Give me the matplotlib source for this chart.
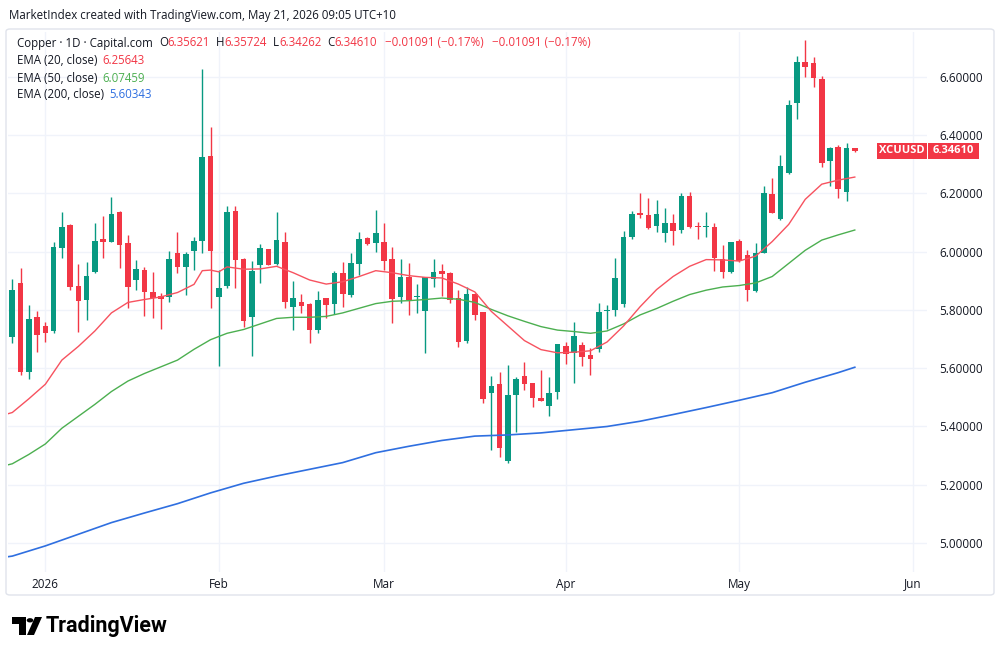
import matplotlib
matplotlib.use("Agg")
import matplotlib.pyplot as plt
from matplotlib.patches import Rectangle, Polygon, Circle, FancyBboxPatch
import numpy as np

W, H = 1000, 656
FONT = ['Open Sans', 'DejaVu Sans']

UP = '#089981'
DOWN = '#f23645'
TXT = '#131722'
GRID = '#f0f3fa'

# daily candles, 26 Dec 2025 .. 21 May 2026 (trading days only)
opens = [5.708, 5.894, 5.586, 5.775, 5.746, 5.729, 6.012, 6.092, 5.882, 5.834,
         5.932, 6.043, 6.035, 6.138, 6.029, 5.903, 5.937, 5.863, 5.848, 5.846,
         5.995, 5.946, 6.003, 6.037, 6.330, 5.846, 5.883, 6.141, 5.975, 5.775,
         5.955, 6.008, 5.957, 6.035, 5.811, 5.829, 5.821, 5.731, 5.840, 5.819,
         5.928, 5.851, 5.958, 6.048, 6.029, 6.035, 5.974, 5.843, 5.912, 5.845,
         5.797, 5.906, 5.935, 5.928, 5.842, 5.694, 5.855, 5.792, 5.516, 5.545,
         5.283, 5.508, 5.574, 5.548, 5.497, 5.472, 5.517, 5.677, 5.653, 5.680,
         5.645, 5.666, 5.795, 5.800, 5.821, 6.052, 6.132, 6.126, 6.088, 6.063,
         6.100, 6.075, 6.193, 6.087, 6.085, 6.084, 5.975, 5.929, 6.037, 5.989,
         5.866, 5.997, 6.198, 6.112, 6.269, 6.510, 6.650, 6.647, 6.592, 6.312,
         6.361, 6.206, 6.35621]
highs = [5.905, 5.943, 5.817, 5.797, 5.760, 6.032, 6.138, 6.094, 5.957, 5.966,
         6.098, 6.123, 6.187, 6.140, 6.058, 5.972, 5.946, 5.932, 5.857, 6.004,
         6.069, 5.999, 6.049, 6.626, 6.427, 5.937, 6.158, 6.158, 5.977, 5.968,
         6.027, 6.009, 6.138, 6.069, 5.901, 5.855, 5.823, 5.866, 5.842, 5.935,
         5.964, 5.997, 6.067, 6.052, 6.143, 6.100, 6.017, 5.974, 5.960, 5.888,
         5.914, 5.974, 5.957, 5.932, 5.869, 5.878, 5.857, 5.794, 5.573, 5.586,
         5.611, 5.569, 5.620, 5.550, 5.594, 5.571, 5.682, 5.691, 5.758, 5.691,
         5.668, 5.823, 5.817, 5.980, 6.071, 6.141, 6.200, 6.186, 6.178, 6.149,
         6.130, 6.201, 6.204, 6.103, 6.138, 6.100, 6.023, 6.035, 6.043, 6.006,
         6.029, 6.226, 6.254, 6.332, 6.521, 6.672, 6.727, 6.670, 6.603, 6.359,
         6.367, 6.372, 6.35724]
lows = [5.686, 5.577, 5.562, 5.657, 5.689, 5.722, 5.980, 5.869, 5.726, 5.766,
        5.928, 5.980, 6.033, 5.943, 5.806, 5.869, 5.779, 5.774, 5.734, 5.829,
        5.926, 5.851, 5.937, 5.997, 5.808, 5.608, 5.877, 5.877, 5.743, 5.642,
        5.894, 5.955, 5.954, 5.806, 5.731, 5.789, 5.685, 5.722, 5.771, 5.786,
        5.811, 5.846, 5.920, 6.023, 6.000, 5.937, 5.754, 5.825, 5.783, 5.791,
        5.653, 5.878, 5.848, 5.823, 5.674, 5.686, 5.766, 5.482, 5.319, 5.294,
        5.273, 5.382, 5.525, 5.468, 5.488, 5.436, 5.493, 5.615, 5.548, 5.608,
        5.577, 5.657, 5.734, 5.780, 5.809, 6.044, 6.115, 6.078, 6.069, 6.035,
        6.023, 6.063, 6.080, 6.043, 6.052, 5.935, 5.909, 5.927, 5.964, 5.832,
        5.863, 5.995, 6.134, 6.110, 6.267, 6.455, 6.599, 6.564, 6.290, 6.226,
        6.183, 6.175, 6.34262]
closes = [5.869, 5.586, 5.768, 5.714, 5.720, 6.015, 6.086, 5.878, 5.832, 5.918,
          6.038, 6.032, 6.128, 6.023, 5.880, 5.940, 5.863, 5.840, 5.838, 5.974,
          5.947, 5.991, 6.037, 6.326, 6.003, 5.874, 6.138, 5.972, 5.763, 5.935,
          6.012, 5.955, 6.040, 5.826, 5.840, 5.815, 5.731, 5.834, 5.817, 5.926,
          5.855, 5.960, 6.044, 6.027, 6.063, 5.968, 5.839, 5.912, 5.834, 5.847,
          5.914, 5.932, 5.924, 5.834, 5.689, 5.855, 5.783, 5.493, 5.540, 5.325,
          5.508, 5.563, 5.545, 5.497, 5.488, 5.516, 5.682, 5.649, 5.711, 5.640,
          5.631, 5.792, 5.798, 5.909, 6.050, 6.130, 6.126, 6.080, 6.130, 6.100,
          6.072, 6.193, 6.084, 6.085, 6.088, 5.977, 5.929, 6.032, 5.969, 5.869,
          5.997, 6.201, 6.134, 6.296, 6.504, 6.650, 6.633, 6.595, 6.306, 6.355,
          6.214, 6.35701, 6.34610]

ema20_idx = [-1, 0, 2, 4, 6, 8, 10, 12, 14, 16, 18, 20, 22, 23, 24, 25, 26, 28, 30,
             32, 34, 36, 38, 40, 42, 44, 46, 48, 50, 52, 54, 56, 58, 60, 62, 64, 66,
             68, 70, 72, 74, 76, 78, 80, 82, 84, 86, 88, 90, 92, 94, 96, 98, 100, 102]
ema20 = [5.440, 5.448, 5.495, 5.545, 5.628, 5.675, 5.728, 5.790, 5.826, 5.836, 5.845,
         5.860, 5.888, 5.935, 5.937, 5.931, 5.948, 5.940, 5.941, 5.950, 5.928, 5.903,
         5.889, 5.897, 5.915, 5.935, 5.928, 5.918, 5.912, 5.910, 5.889, 5.862, 5.795,
         5.745, 5.695, 5.664, 5.653, 5.655, 5.660, 5.690, 5.745, 5.811, 5.870, 5.915,
         5.950, 5.973, 5.972, 5.968, 5.985, 6.035, 6.094, 6.180, 6.232, 6.246, 6.25643]

ema50_idx = [-1, 0, 2, 4, 6, 8, 10, 12, 14, 16, 18, 20, 22, 24, 26, 28, 30, 32, 34,
             36, 38, 40, 42, 44, 46, 48, 50, 52, 54, 56, 58, 60, 62, 64, 66, 68, 70,
             72, 74, 76, 78, 80, 82, 84, 86, 88, 90, 92, 94, 96, 98, 100, 102]
ema50 = [5.265, 5.272, 5.304, 5.340, 5.394, 5.435, 5.476, 5.520, 5.556, 5.582, 5.605,
         5.628, 5.665, 5.698, 5.720, 5.733, 5.752, 5.771, 5.775, 5.775, 5.778, 5.790,
         5.806, 5.822, 5.830, 5.832, 5.836, 5.841, 5.837, 5.826, 5.802, 5.780, 5.761,
         5.743, 5.731, 5.726, 5.720, 5.728, 5.752, 5.783, 5.805, 5.830, 5.853, 5.868,
         5.879, 5.884, 5.893, 5.915, 5.960, 6.005, 6.040, 6.058, 6.07459]

ema200_idx = [-1, 0, 4, 8, 12, 16, 20, 24, 28, 32, 36, 40, 44, 48, 52, 56, 60, 64,
              68, 72, 76, 80, 84, 88, 92, 96, 100, 102]
ema200 = [4.951, 4.955, 4.990, 5.030, 5.070, 5.103, 5.135, 5.172, 5.205, 5.230, 5.253,
          5.276, 5.310, 5.332, 5.352, 5.367, 5.371, 5.378, 5.389, 5.400, 5.418, 5.441,
          5.465, 5.490, 5.516, 5.552, 5.585, 5.60343]

month_pos = [4, 25, 45, 67, 88, 109]
month_lbl = ['2026', 'Feb', 'Mar', 'Apr', 'May', 'Jun']
price_ticks = [5.0, 5.2, 5.4, 5.6, 5.8, 6.0, 6.2, 6.4, 6.6]


def px(x):
    return x / W


def py(y):
    return 1 - y / H


fig = plt.figure(figsize=(W / 100, H / 100), dpi=100)
fig.patch.set_facecolor('white')

# chart frame
fig.add_artist(FancyBboxPatch((px(6), py(595)), 988 / W, 566 / H,
                              boxstyle='round,pad=0,rounding_size=0.004',
                              transform=fig.transFigure, fc='none', ec='#e0e3eb', lw=1))

ax = fig.add_axes([px(8), py(572), 919 / W, 540 / H])
ax.set_xlim(-0.52, 110.74)
ax.set_ylim(4.9004, 6.7545)
for s in ax.spines.values():
    s.set_visible(False)

x = np.arange(len(closes))
o = np.array(opens)
c = np.array(closes)
cols = [UP if cc >= oo else DOWN for oo, cc in zip(o, c)]
bottoms = np.minimum(o, c)
heights = np.maximum(np.abs(c - o), 0.0035)

ax.vlines(x, lows, highs, colors=cols, linewidth=1, zorder=2)
ax.bar(x, heights, bottom=bottoms, width=0.68, color=cols, linewidth=0, zorder=2)

ax.plot(ema200_idx, ema200, color='#2f6fe0', lw=1.2, zorder=3)
ax.plot(ema50_idx, ema50, color='#4caf50', lw=1, zorder=3)
ax.plot(ema20_idx, ema20, color='#f7525f', lw=1, zorder=3)

ax.set_xticks(month_pos, month_lbl)
ax.yaxis.tick_right()
ax.set_yticks(price_ticks, [f'{p:.5f}' for p in price_ticks])
ax.tick_params(axis='x', length=0, pad=4, labelsize=8.5, colors=TXT)
ax.tick_params(axis='y', length=0, pad=9, labelsize=8.5, colors=TXT)
for lab in ax.get_xticklabels() + ax.get_yticklabels():
    lab.set_family(FONT)
ax.grid(color=GRID, lw=1, zorder=0)
ax.set_axisbelow(True)

# last price label
yy = ax.transData.transform((0, closes[-1]))[1]
fig.add_artist(Rectangle((px(877), (yy - 8) / H), 50 / W, 16 / H,
                         transform=fig.transFigure, fc=DOWN, ec='none'))
fig.add_artist(Rectangle((px(928), (yy - 8) / H), 51 / W, 16 / H,
                         transform=fig.transFigure, fc=DOWN, ec='none'))
fig.text(px(902), yy / H, 'XCUUSD', color='white', fontsize=8, fontweight='bold',
         family=FONT, ha='center', va='center')
fig.text(px(953.5), yy / H, f'{closes[-1]:.5f}', color='white', fontsize=8,
         fontweight='bold', family=FONT, ha='center', va='center')

renderer = fig.canvas.get_renderer()


def seq_text(x0, y0, parts, size=8.3):
    for s, col, gap in parts:
        t = fig.text(px(x0), py(y0), s, color=col, fontsize=size, family=FONT,
                     ha='left', va='center')
        x0 += t.get_window_extent(renderer).width + gap


fig.text(px(9), py(15), 'MarketIndex created with TradingView.com, May 21, 2026 09:05 UTC+10',
         color=TXT, fontsize=8.3, family=FONT, ha='left', va='center')

chg = closes[-1] - closes[-2]
pct = chg / closes[-2] * 100
chg_s = f'{chg:.5f} ({pct:.2f}%)'.replace('-', '\u2212')
seq_text(17, 43, [('Copper \u00b7 1D \u00b7 Capital.com', TXT, 6),
                  ('O', TXT, 0), (f'{opens[-1]:.5f}', DOWN, 6),
                  ('H', TXT, 0), (f'{highs[-1]:.5f}', DOWN, 6),
                  ('L', TXT, 0), (f'{lows[-1]:.5f}', DOWN, 6),
                  ('C', TXT, 0), (f'{closes[-1]:.5f}', DOWN, 8),
                  (chg_s, DOWN, 8), (chg_s, DOWN, 0)])
seq_text(17, 60, [('EMA (20, close)', TXT, 5), (f'{ema20[-1]:.5f}', DOWN, 0)])
seq_text(17, 78, [('EMA (50, close)', TXT, 5), (f'{ema50[-1]:.5f}', '#4caf50', 0)])
seq_text(17, 95, [('EMA (200, close)', TXT, 5), (f'{ema200[-1]:.5f}', '#2f6fe0', 0)])

# TradingView logo
def pts(lst):
    return [(px(a), py(b)) for a, b in lst]


fig.add_artist(Polygon(pts([(12, 617), (25.5, 617), (25.5, 635), (19, 635), (19, 623.5), (12, 623.5)]),
                       closed=True, transform=fig.transFigure, fc='black', ec='none'))
fig.add_artist(Polygon(pts([(35, 617), (42, 617), (34, 635), (27, 635)]),
                       closed=True, transform=fig.transFigure, fc='black', ec='none'))
fig.add_artist(Circle((px(30), py(620.3)), 3.3 / W, transform=fig.transFigure, fc='black', ec='none'))
fig.text(px(46), py(626), 'TradingView', color='black', fontsize=15.5, fontweight='bold',
         family=['Roboto', 'DejaVu Sans'], ha='left', va='center')

fig.savefig('out.png', dpi=100)
